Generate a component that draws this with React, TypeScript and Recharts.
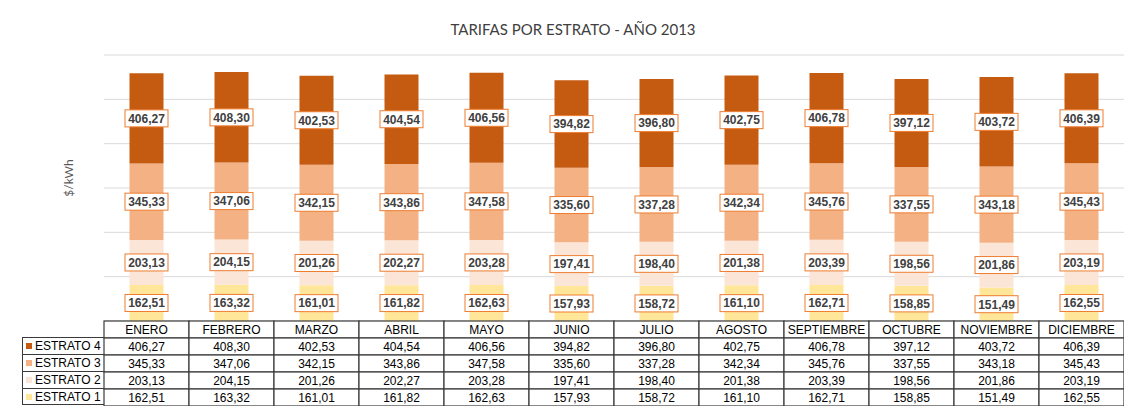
import React from 'react'
import { BarChart, Bar, XAxis, YAxis, CartesianGrid, LabelList, Legend } from 'recharts'

const MONTHS = [
  'ENERO', 'FEBRERO', 'MARZO', 'ABRIL', 'MAYO', 'JUNIO',
  'JULIO', 'AGOSTO', 'SEPTIEMBRE', 'OCTUBRE', 'NOVIEMBRE', 'DICIEMBRE',
]
const ESTRATO_1 = [162.51, 163.32, 161.01, 161.82, 162.63, 157.93, 158.72, 161.1, 162.71, 158.85, 151.49, 162.55]
const ESTRATO_2 = [203.13, 204.15, 201.26, 202.27, 203.28, 197.41, 198.4, 201.38, 203.39, 198.56, 201.86, 203.19]
const ESTRATO_3 = [345.33, 347.06, 342.15, 343.86, 347.58, 335.6, 337.28, 342.34, 345.76, 337.55, 343.18, 345.43]
const ESTRATO_4 = [406.27, 408.3, 402.53, 404.54, 406.56, 394.82, 396.8, 402.75, 406.78, 397.12, 403.72, 406.39]
const Y_TICKS = [0, 200, 400, 600, 800, 1000, 1200]

const SERIES = [
  { key: 'e1', name: 'ESTRATO 1', color: '#ffe699', values: ESTRATO_1 },
  { key: 'e2', name: 'ESTRATO 2', color: '#fbe5d6', values: ESTRATO_2 },
  { key: 'e3', name: 'ESTRATO 3', color: '#f4b183', values: ESTRATO_3 },
  { key: 'e4', name: 'ESTRATO 4', color: '#c55a11', values: ESTRATO_4 },
]

const data = MONTHS.map((month, i) => {
  const row: Record<string, string | number> = { month }
  SERIES.forEach((s) => (row[s.key] = s.values[i]))
  return row
})

const TABLE_ROWS = [...SERIES].reverse()
const COL_W = 85
const ROW_H = 17
const LINE = '#3a3a3a'
const TABLE_FONT = '"Liberation Sans", Arial, sans-serif'

const fmt = (v: number) => v.toFixed(2).replace('.', ',')

function TableTick(props: any) {
  const { x, y, payload } = props
  const idx = payload.index
  const left = x - COL_W / 2
  return (
    <g>
      {[0, 1, 2, 3, 4].map((r) => (
        <rect
          key={r}
          x={left}
          y={y + r * ROW_H}
          width={COL_W}
          height={ROW_H}
          fill="#fff"
          stroke={LINE}
          strokeWidth={1.2}
        />
      ))}
      <text x={x} y={y + ROW_H / 2} dy="0.36em" textAnchor="middle" fontSize={12} fontFamily={TABLE_FONT} fill="#000">
        {payload.value}
      </text>
      {TABLE_ROWS.map((s, r) => (
        <text
          key={s.key}
          x={x}
          y={y + (r + 1.5) * ROW_H}
          dy="0.36em"
          textAnchor="middle"
          fontSize={12}
          fontFamily={TABLE_FONT}
          fill="#000"
        >
          {fmt(s.values[idx])}
        </text>
      ))}
    </g>
  )
}

function BoxLabel(props: any) {
  const { x, y, width, height, value } = props
  const cx = x + width / 2
  const cy = y + height / 2
  return (
    <g>
      <rect x={cx - 21.5} y={cy - 8.5} width={43} height={17} fill="#fff" stroke="#ed7d31" strokeWidth={1} />
      <text
        x={cx}
        y={cy}
        dy="0.36em"
        textAnchor="middle"
        fontSize={12}
        fontWeight="bold"
        fontFamily={TABLE_FONT}
        fill="#404040"
      >
        {fmt(value)}
      </text>
    </g>
  )
}

function TableLegend(props: any) {
  const items = [...(props.payload || [])].reverse()
  return (
    <div style={{ width: 82, fontFamily: TABLE_FONT, fontSize: 12, color: '#000' }}>
      {items.map((it: any, i: number) => (
        <div
          key={it.value}
          style={{
            height: ROW_H,
            boxSizing: 'border-box',
            borderLeft: `1.2px solid ${LINE}`,
            borderTop: `1.2px solid ${LINE}`,
            borderBottom: i === items.length - 1 ? `1.2px solid ${LINE}` : 'none',
            display: 'flex',
            alignItems: 'center',
            paddingLeft: 3,
            whiteSpace: 'nowrap',
          }}
        >
          <span style={{ width: 6, height: 6, background: it.color, marginRight: 3, display: 'inline-block' }} />
          {it.value}
        </div>
      ))}
    </div>
  )
}

export default function App() {
  return (
    <div style={{ margin: -8, width: 1132, height: 414, position: 'relative', overflow: 'hidden', background: '#fff' }}>
      <div
        style={{
          position: 'absolute',
          left: 0,
          top: 20,
          width: 1146,
          textAlign: 'center',
          fontFamily: 'Lato, "Open Sans", sans-serif',
          fontSize: 15,
          color: '#404040',
        }}
      >
        TARIFAS POR ESTRATO - AÑO 2013
      </div>
      <div
        style={{
          position: 'absolute',
          left: 68,
          top: 178,
          transform: 'translate(-50%, -50%) rotate(-90deg)',
          fontFamily: 'Lato, "Open Sans", sans-serif',
          fontSize: 12,
          color: '#595959',
          whiteSpace: 'nowrap',
        }}
      >
        $/kWh
      </div>
      <div style={{ position: 'absolute', left: 0, top: 0 }}>
        <BarChart
          width={1132}
          height={414}
          data={data}
          margin={{ top: 55, right: 8, left: 104, bottom: 5 }}
          barCategoryGap="30%"
        >
          <CartesianGrid vertical={false} stroke="#d9d9d9" />
          <YAxis hide domain={[0, 1200]} ticks={Y_TICKS} />
          <XAxis
            dataKey="month"
            height={88}
            interval={0}
            tickLine={false}
            axisLine={false}
            tickSize={0}
            tickMargin={0}
            tick={<TableTick />}
          />
          <Legend
            verticalAlign="middle"
            align="center"
            content={<TableLegend />}
            wrapperStyle={{ left: 22, top: 337, width: 82, height: 69 }}
          />
          {SERIES.map((s) => (
            <Bar key={s.key} dataKey={s.key} name={s.name} stackId="a" fill={s.color} isAnimationActive={false}>
              <LabelList dataKey={s.key} content={<BoxLabel />} />
            </Bar>
          ))}
          <path d="M6.5 420 V6.5 H1140" fill="none" stroke="#000" strokeWidth={3} />
        </BarChart>
      </div>
    </div>
  )
}
